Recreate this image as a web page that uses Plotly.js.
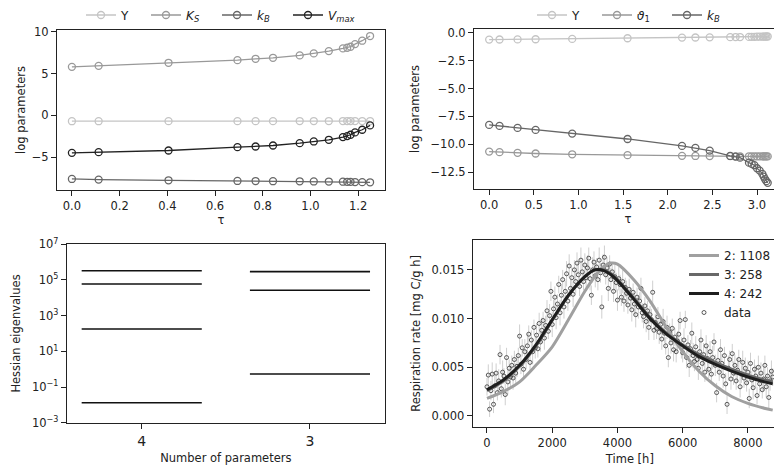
<!DOCTYPE html>
<html>
<head>
<meta charset="utf-8">
<script src="https://cdn.plot.ly/plotly-3.0.1.min.js"></script>
<style>
html,body{margin:0;padding:0;width:774px;height:473px;overflow:hidden;background:#fff;}
#chart{width:800px;height:473px;}
</style>
</head>
<body>
<div id="chart"></div>
<script>
// ---------- Panel A: parameter paths (4 parameters) ----------
const tauA = [0, 0.112, 0.405, 0.694, 0.770, 0.843, 0.955, 1.014, 1.077, 1.136, 1.154, 1.168, 1.187, 1.217, 1.25];
const A_Y    = [-0.70, -0.70, -0.69, -0.69, -0.69, -0.69, -0.68, -0.68, -0.68, -0.68, -0.68, -0.68, -0.68, -0.68, -0.68];
const A_KS   = [5.80, 5.92, 6.28, 6.60, 6.76, 6.88, 7.16, 7.40, 7.68, 8.00, 8.08, 8.20, 8.52, 8.92, 9.48];
const A_kB   = [-7.60, -7.68, -7.76, -7.84, -7.85, -7.87, -7.88, -7.90, -7.91, -7.93, -7.94, -7.95, -7.97, -7.98, -8.00];
const A_Vmax = [-4.48, -4.40, -4.20, -3.80, -3.72, -3.60, -3.32, -3.12, -2.92, -2.60, -2.48, -2.32, -2.04, -1.72, -1.20];

// ---------- Panel B: parameter paths (3 parameters) ----------
const tauB = [0, 0.116, 0.318, 0.52, 0.93, 1.55, 2.16, 2.31, 2.47, 2.70, 2.76, 2.81, 2.91, 2.94, 2.97, 3.0, 3.03, 3.06, 3.075, 3.09, 3.105, 3.12];
const B_Y  = [-0.62, -0.61, -0.60, -0.59, -0.56, -0.50, -0.44, -0.43, -0.42, -0.40, -0.39, -0.39, -0.38, -0.37, -0.37, -0.36, -0.36, -0.35, -0.35, -0.35, -0.34, -0.34];
const B_th = [-10.65, -10.70, -10.76, -10.82, -10.89, -10.97, -11.03, -11.04, -11.05, -11.06, -11.07, -11.07, -11.07, -11.08, -11.08, -11.08, -11.08, -11.08, -11.08, -11.08, -11.08, -11.08];
const B_kB = [-8.26, -8.35, -8.53, -8.71, -9.04, -9.52, -10.14, -10.32, -10.56, -11.04, -11.10, -11.19, -11.64, -11.75, -11.87, -12.14, -12.35, -12.65, -12.89, -13.12, -13.30, -13.45];

// ---------- Panel C: Hessian eigenvalues ----------
const nParamLabels = ["4", "3"];
const eig4 = [3.3e5, 5.97e4, 179, 0.0132];
const eig3 = [2.93e5, 2.64e4, 0.536];

// ---------- Panel D: respiration data and model fits ----------
const modelT = [0, 500, 1000, 1500, 2000, 2500, 3000, 3300, 3600, 3800, 4000, 4500, 5000, 5500, 6000, 6500, 7000, 7500, 8000, 8500, 8760];
const model2 = [0.0018, 0.0025, 0.0035, 0.0052, 0.0071, 0.0099, 0.0128, 0.0143, 0.0154, 0.0157, 0.0156, 0.0140, 0.0118, 0.0091, 0.0066, 0.0046, 0.0031, 0.0020, 0.0013, 0.0008, 0.0006];
const model3 = [0.0026, 0.0036, 0.0051, 0.0072, 0.0098, 0.0124, 0.0143, 0.0150, 0.0150, 0.0146, 0.0140, 0.0121, 0.0101, 0.0085, 0.0073, 0.0063, 0.0055, 0.0048, 0.0042, 0.0037, 0.0035];
const model4 = [0.0027, 0.0037, 0.0052, 0.0073, 0.0099, 0.0124, 0.0143, 0.0150, 0.0149, 0.0145, 0.0139, 0.0120, 0.0100, 0.0084, 0.0072, 0.0061, 0.0053, 0.0046, 0.0040, 0.0035, 0.0033];
const modelNames = ["2: 1108", "3: 258", "4: 242"];

const dataT = [
0,40,80,120,160,200,240,280,320,360,
400,440,480,520,560,600,640,680,720,760,
800,840,880,920,960,1000,1040,1080,1120,1160,
1200,1240,1280,1320,1360,1400,1440,1480,1520,1560,
1600,1640,1680,1720,1760,1800,1840,1880,1920,1960,
2000,2040,2080,2120,2160,2200,2240,2280,2320,2360,
2400,2440,2480,2520,2560,2600,2640,2680,2720,2760,
2800,2840,2880,2920,2960,3000,3040,3080,3120,3160,
3200,3240,3280,3320,3360,3400,3440,3480,3520,3560,
3600,3640,3680,3720,3760,3800,3840,3880,3920,3960,
4000,4040,4080,4120,4160,4200,4240,4280,4320,4360,
4400,4440,4480,4520,4560,4600,4640,4680,4720,4760,
4800,4840,4880,4920,4960,5000,5040,5080,5120,5160,
5200,5240,5280,5320,5360,5400,5440,5480,5520,5560,
5600,5640,5680,5720,5760,5800,5840,5880,5920,5960,
6000,6040,6080,6120,6160,6200,6240,6280,6320,6360,
6400,6440,6480,6520,6560,6600,6640,6680,6720,6760,
6800,6840,6880,6920,6960,7000,7040,7080,7120,7160,
7200,7240,7280,7320,7360,7400,7440,7480,7520,7560,
7600,7640,7680,7720,7760,7800,7840,7880,7920,7960,
8000,8040,8080,8120,8160,8200,8240,8280,8320,8360,
8400,8440,8480,8520,8560,8600,8640,8680,8720,8760];
const dataR = [
0.0030,0.0042,0.0007,0.0026,0.0043,0.0012,0.0031,0.0044,0.0024,0.0036,
0.0063,0.0028,0.0045,0.0041,0.0022,0.0060,0.0035,0.0049,0.0040,0.0052,
0.0039,0.0058,0.0044,0.0051,0.0062,0.0082,0.0053,0.0070,0.0048,0.0066,
0.0058,0.0072,0.0084,0.0055,0.0078,0.0066,0.0091,0.0070,0.0083,0.0069,
0.0095,0.0076,0.0088,0.0098,0.0080,0.0093,0.0108,0.0087,0.0103,0.0128,
0.0094,0.0110,0.0122,0.0101,0.0115,0.0135,0.0106,0.0124,0.0140,0.0112,
0.0128,0.0146,0.0118,0.0154,0.0131,0.0142,0.0125,0.0150,0.0138,0.0157,
0.0145,0.0133,0.0160,0.0148,0.0138,0.0155,0.0142,0.0152,0.0162,0.0141,
0.0124,0.0150,0.0158,0.0144,0.0153,0.0140,0.0160,0.0147,0.0112,0.0155,
0.0163,0.0145,0.0152,0.0131,0.0156,0.0140,0.0148,0.0128,0.0143,0.0137,
0.0119,0.0141,0.0135,0.0122,0.0138,0.0118,0.0132,0.0126,0.0114,0.0130,
0.0121,0.0109,0.0127,0.0115,0.0104,0.0122,0.0112,0.0118,0.0131,0.0106,
0.0102,0.0113,0.0097,0.0108,0.0091,0.0104,0.0099,0.0127,0.0088,0.0096,
0.0090,0.0102,0.0086,0.0094,0.0079,0.0097,0.0085,0.0072,0.0091,0.0060,
0.0086,0.0075,0.0090,0.0068,0.0081,0.0066,0.0077,0.0084,0.0098,0.0070,
0.0065,0.0078,0.0099,0.0060,0.0073,0.0052,0.0069,0.0085,0.0062,0.0056,
0.0071,0.0058,0.0049,0.0066,0.0078,0.0054,0.0063,0.0045,0.0072,0.0059,
0.0048,0.0066,0.0043,0.0060,0.0076,0.0052,0.0024,0.0057,0.0045,0.0068,
0.0054,0.0041,0.0062,0.0033,0.0012,0.0049,0.0058,0.0038,0.0064,0.0044,
0.0052,0.0036,0.0047,0.0058,0.0030,0.0043,0.0055,0.0039,0.0049,0.0034,
0.0045,0.0018,0.0054,0.0037,0.0029,0.0048,0.0041,0.0021,0.0050,0.0033,
0.0044,0.0027,0.0038,0.0052,0.0030,0.0041,0.0019,0.0036,0.0046,0.0040];
const dataErr = [
0.0009,0.0011,0.0008,0.0010,0.0012,0.0009,0.0011,0.0010,0.0008,0.0012,
0.0010,0.0009,0.0012,0.0008,0.0011,0.0010,0.0013,0.0009,0.0011,0.0010,
0.0012,0.0009,0.0010,0.0011,0.0008,0.0012,0.0010,0.0009,0.0011,0.0013,
0.0010,0.0012,0.0009,0.0011,0.0010,0.0013,0.0008,0.0011,0.0012,0.0009,
0.0011,0.0010,0.0013,0.0009,0.0012,0.0010,0.0011,0.0008,0.0012,0.0010,
0.0013,0.0009,0.0011,0.0012,0.0010,0.0009,0.0013,0.0011,0.0010,0.0012,
0.0011,0.0013,0.0010,0.0012,0.0009,0.0011,0.0013,0.0010,0.0012,0.0011,
0.0012,0.0010,0.0013,0.0011,0.0009,0.0012,0.0010,0.0013,0.0011,0.0012,
0.0010,0.0013,0.0011,0.0012,0.0009,0.0011,0.0013,0.0010,0.0012,0.0011,
0.0012,0.0010,0.0011,0.0013,0.0009,0.0012,0.0010,0.0011,0.0013,0.0010,
0.0011,0.0012,0.0010,0.0009,0.0012,0.0011,0.0010,0.0013,0.0009,0.0011,
0.0010,0.0012,0.0009,0.0011,0.0013,0.0010,0.0012,0.0009,0.0011,0.0010,
0.0012,0.0009,0.0011,0.0010,0.0013,0.0009,0.0011,0.0012,0.0010,0.0009,
0.0011,0.0010,0.0012,0.0009,0.0011,0.0013,0.0010,0.0009,0.0012,0.0010,
0.0009,0.0011,0.0010,0.0012,0.0009,0.0011,0.0010,0.0013,0.0009,0.0011,
0.0010,0.0012,0.0009,0.0011,0.0010,0.0012,0.0009,0.0011,0.0013,0.0010,
0.0011,0.0009,0.0012,0.0010,0.0011,0.0009,0.0012,0.0010,0.0011,0.0013,
0.0009,0.0011,0.0010,0.0012,0.0009,0.0011,0.0010,0.0012,0.0009,0.0011,
0.0010,0.0012,0.0009,0.0011,0.0010,0.0013,0.0009,0.0011,0.0010,0.0012,
0.0011,0.0009,0.0012,0.0010,0.0011,0.0009,0.0012,0.0010,0.0011,0.0009,
0.0012,0.0010,0.0011,0.0009,0.0012,0.0010,0.0011,0.0009,0.0012,0.0010,
0.0011,0.0009,0.0012,0.0010,0.0011,0.0009,0.0012,0.0010,0.0011,0.0009];

// ---------- styling ----------
const W = 800, H = 473;
const FONT = 'DejaVu Sans, Liberation Sans, sans-serif';
const TICKF = {family: FONT, size: 11.5, color: '#222'};
const TITLEF = {family: FONT, size: 11.5, color: '#222'};
const C_light = '#c4c4c4', C_mid = '#999999', C_dark = '#666666', C_black = '#222222';

function dx(a, b) { return [a / W, b / W]; }
function dy(top, bottom) { return [1 - bottom / H, 1 - top / H]; }

function pathTrace(x, y, name, color, xa, ya, legend) {
  return {
    type: 'scatter', mode: 'lines+markers', x: x, y: y, name: name,
    xaxis: xa, yaxis: ya, legend: legend,
    line: {color: color, width: 1.3},
    marker: {symbol: 'circle-open', size: 7, color: color, line: {width: 1.3, color: color}},
    cliponaxis: false
  };
}

const traces = [];
traces.push(pathTrace(tauA, A_Y, 'Y', C_light, 'x', 'y', 'legend'));
traces.push(pathTrace(tauA, A_KS, '<i>K<sub>S</sub></i>', C_mid, 'x', 'y', 'legend4'));
traces.push(pathTrace(tauA, A_kB, '<i>k<sub>B</sub></i>', C_dark, 'x', 'y', 'legend5'));
traces.push(pathTrace(tauA, A_Vmax, '<i>V<sub>max</sub></i>', C_black, 'x', 'y', 'legend6'));

traces.push(pathTrace(tauB, B_Y, 'Y', C_light, 'x2', 'y2', 'legend2'));
traces.push(pathTrace(tauB, B_th, '<i>ϑ</i><sub>1</sub>', C_mid, 'x2', 'y2', 'legend7'));
traces.push(pathTrace(tauB, B_kB, '<i>k<sub>B</sub></i>', C_dark, 'x2', 'y2', 'legend8'));

// Hessian eigenvalue bars (horizontal segments centred on category index)
const halfW = 0.357;
[eig4, eig3].forEach(function (eigs, i) {
  const xs = [], ys = [];
  eigs.forEach(function (v) { xs.push(i - halfW, i + halfW, null); ys.push(v, v, null); });
  traces.push({type: 'scatter', mode: 'lines', x: xs, y: ys, xaxis: 'x3', yaxis: 'y3',
    line: {color: '#111', width: 1.6}, showlegend: false, hoverinfo: 'skip'});
});

// respiration data
traces.push({
  type: 'scatter', mode: 'markers', x: dataT, y: dataR, name: 'data',
  xaxis: 'x4', yaxis: 'y4', legend: 'legend3', legendrank: 4,
  marker: {symbol: 'circle-open', size: 4, color: '#333', line: {width: 0.8, color: '#333'}},
  error_y: {type: 'data', array: dataErr, visible: true, color: '#cfcfcf', thickness: 1, width: 0}
});
const modelCols = ['#a0a0a0', '#686868', '#1e1e1e'];
[model2, model3, model4].forEach(function (m, i) {
  traces.push({
    type: 'scatter', mode: 'lines', x: modelT, y: m, name: modelNames[i],
    xaxis: 'x4', yaxis: 'y4', legend: 'legend3', legendrank: i + 1,
    line: {color: modelCols[i], width: 3, shape: 'spline', smoothing: 0.8}
  });
});

function axBase(extra) {
  return Object.assign({
    showline: true, linecolor: '#222', linewidth: 1, mirror: true,
    ticks: 'outside', ticklen: 5, tickwidth: 1, tickcolor: '#222',
    showgrid: false, zeroline: false, tickfont: TICKF, automargin: false
  }, extra);
}

const legFont = {family: FONT, size: 12, color: '#222'};
function topLegend(xpx) {
  return {orientation: 'h', x: xpx / W, xanchor: 'left', y: 1 - 15 / H, yanchor: 'middle',
    font: legFont, bgcolor: 'rgba(0,0,0,0)', itemwidth: 30};
}

const layout = {
  width: W, height: H,
  margin: {l: 0, r: 0, t: 0, b: 0},
  paper_bgcolor: '#fff', plot_bgcolor: '#fff',
  font: {family: FONT, color: '#222'},
  showlegend: true,
  xaxis: axBase({domain: dx(57, 385), anchor: 'y', range: [-0.0625, 1.3125], tickvals: [0, 0.2, 0.4, 0.6, 0.8, 1.0, 1.2], tickformat: '.1f',
    title: {text: 'τ', font: TITLEF, standoff: 0}}),
  yaxis: axBase({domain: dy(30, 190), anchor: 'x', range: [-8.92, 10.2], tickvals: [-5, 0, 5, 10],
    title: {text: 'log parameters', font: TITLEF, standoff: 3}}),
  xaxis2: axBase({domain: dx(474, 782), anchor: 'y2', range: [-0.17, 3.28], tickvals: [0, 0.5, 1, 1.5, 2, 2.5, 3], tickformat: '.1f',
    title: {text: 'τ', font: TITLEF, standoff: 0}}),
  yaxis2: axBase({domain: dy(29, 189), anchor: 'x2', range: [-14.0, 0.33], tickvals: [0, -2.5, -5, -7.5, -10, -12.5], tickformat: '.1f',
    title: {text: 'log parameters', font: TITLEF, standoff: 8}}),
  xaxis3: axBase({domain: dx(66.7, 385), anchor: 'y3', range: [-0.446, 1.446], tickvals: [0, 1], ticktext: nParamLabels,
    tickfont: {family: FONT, size: 14, color: '#222'},
    title: {text: 'Number of parameters', font: TITLEF, standoff: 6}}),
  yaxis3: axBase({domain: dy(244.3, 422.7), anchor: 'x3', type: 'log', range: [-3, 7],
    tickvals: [1e-3, 1e-1, 1e1, 1e3, 1e5, 1e7],
    ticktext: ['10<sup>−3</sup>', '10<sup>−1</sup>', '10<sup>1</sup>', '10<sup>3</sup>', '10<sup>5</sup>', '10<sup>7</sup>'],
    title: {text: 'Hessian eigenvalues', font: TITLEF, standoff: 8}}),
  xaxis4: axBase({domain: dx(472.7, 787), anchor: 'y4', range: [-438, 9198], tickvals: [0, 2000, 4000, 6000, 8000],
    title: {text: 'Time [h]', font: TITLEF, standoff: 6}}),
  yaxis4: axBase({domain: dy(240, 426.7), anchor: 'x4', range: [-0.0011, 0.01807], tickvals: [0, 0.005, 0.01, 0.015], tickformat: '.3f',
    title: {text: 'Respiration rate [mg C/g h]', font: TITLEF, standoff: 8}}),
  legend: topLegend(81),
  legend4: topLegend(146),
  legend5: topLegend(217),
  legend6: topLegend(288),
  legend2: topLegend(532),
  legend7: topLegend(597),
  legend8: topLegend(667),
  legend3: {orientation: 'v', x: 684 / W, xanchor: 'left', y: 1 - 241 / H, yanchor: 'top',
    font: legFont, bgcolor: 'rgba(0,0,0,0)', itemwidth: 30, tracegroupgap: 0}
};

Plotly.newPlot('chart', traces, layout, {staticPlot: true, displayModeBar: false});
</script>
</body>
</html>
